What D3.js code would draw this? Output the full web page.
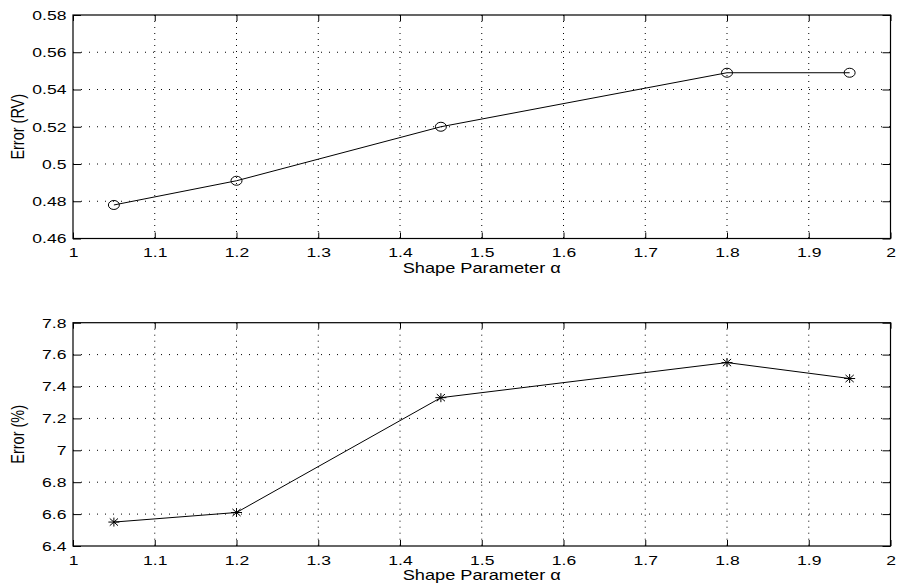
<!DOCTYPE html>
<html>
<head>
<meta charset="utf-8">
<script src="https://cdn.jsdelivr.net/npm/d3@7"></script>
<style>
body { margin: 0; background: white; }
text { font-family: "Liberation Sans", Arial, sans-serif; fill: #000; }
</style>
</head>
<body>
<div id="chart"></div>
<script>
// data
var alpha = [1.05, 1.2, 1.45, 1.8, 1.95];
var errorRV = [0.478, 0.491, 0.520, 0.549, 0.549];
var errorPct = [6.55, 6.61, 7.33, 7.55, 7.45];
var xTicks = [1, 1.1, 1.2, 1.3, 1.4, 1.5, 1.6, 1.7, 1.8, 1.9, 2];
var rvTicks = [0.46, 0.48, 0.5, 0.52, 0.54, 0.56, 0.58];
var pctTicks = [6.4, 6.6, 6.8, 7, 7.2, 7.4, 7.6, 7.8];

var svg = d3.select("#chart")
    .append("svg")
    .attr("width", 897)
    .attr("height", 588);

var left = 73, right = 890.5;
var stretch = 1.3; // the figure's text is wider than normal

function panel(top, bottom, yDomain, yTicks, values, yLabel, marker) {
    var x = d3.scaleLinear().domain([1, 2]).range([left, right]);
    var y = d3.scaleLinear().domain(yDomain).range([bottom, top]);
    var g = svg.append("g");

    // dotted grid
    g.selectAll(".gx").data(xTicks.slice(1, -1)).enter()
        .append("line")
        .attr("x1", d => x(d)).attr("x2", d => x(d))
        .attr("y1", top).attr("y2", bottom)
        .style("stroke", "#000").style("stroke-width", 1)
        .style("stroke-dasharray", "1,5");
    g.selectAll(".gy").data(yTicks.slice(1, -1)).enter()
        .append("line")
        .attr("x1", left).attr("x2", right)
        .attr("y1", d => y(d)).attr("y2", d => y(d))
        .style("stroke", "#000").style("stroke-width", 1)
        .style("stroke-dasharray", "1,7");

    // axes with inward ticks on all four sides
    g.append("g").attr("class", "xb").attr("transform", "translate(0," + bottom + ")")
        .call(d3.axisBottom(x).tickValues(xTicks).tickSizeInner(-6).tickSizeOuter(0).tickPadding(9).tickFormat(d3.format("")));
    g.append("g").attr("transform", "translate(0," + top + ")")
        .call(d3.axisTop(x).tickValues(xTicks).tickSizeInner(-6).tickSizeOuter(0).tickFormat(""));
    g.append("g").attr("class", "yl").attr("transform", "translate(" + left + ",0)")
        .call(d3.axisLeft(y).tickValues(yTicks).tickSizeInner(-8).tickSizeOuter(0).tickPadding(5).tickFormat(d3.format("")));
    g.append("g").attr("transform", "translate(" + right + ",0)")
        .call(d3.axisRight(y).tickValues(yTicks).tickSizeInner(-8).tickSizeOuter(0).tickFormat(""));
    g.selectAll(".domain").remove();
    g.selectAll(".tick line").style("stroke", "#000");
    g.selectAll(".tick text")
        .style("font-size", "13.5px")
        .style("font-family", "Liberation Sans, Arial, sans-serif")
        .attr("transform", "scale(" + stretch + ",1)");

    g.append("rect")
        .attr("x", left).attr("y", top)
        .attr("width", right - left).attr("height", bottom - top)
        .style("fill", "none").style("stroke", "#000").style("stroke-width", 1.2);

    // data line
    var line = d3.line().x(d => x(d[0])).y(d => y(d[1]));
    var pts = d3.zip(alpha, values);
    g.append("path").datum(pts)
        .attr("d", line)
        .style("fill", "none").style("stroke", "#000").style("stroke-width", 1);

    if (marker == "o") {
        g.selectAll(".mk").data(pts).enter()
            .append("ellipse")
            .attr("cx", d => x(d[0])).attr("cy", d => y(d[1]))
            .attr("rx", 5.5).attr("ry", 4.5)
            .style("fill", "none").style("stroke", "#000").style("stroke-width", 1);
    } else {
        var sx = 5.5, sy = 4.5;
        g.selectAll(".mk").data(pts).enter()
            .append("path")
            .attr("d", function(d) {
                var cx = x(d[0]), cy = y(d[1]);
                return "M" + (cx - sx) + "," + cy + "L" + (cx + sx) + "," + cy +
                    "M" + cx + "," + (cy - sy) + "L" + cx + "," + (cy + sy) +
                    "M" + (cx - sx * 0.75) + "," + (cy - sy * 0.8) + "L" + (cx + sx * 0.75) + "," + (cy + sy * 0.8) +
                    "M" + (cx - sx * 0.75) + "," + (cy + sy * 0.8) + "L" + (cx + sx * 0.75) + "," + (cy - sy * 0.8);
            })
            .style("stroke", "#000").style("stroke-width", 1);
    }

    svg.append("text")
        .attr("transform", "translate(" + (left + right) / 2 + "," + (bottom + 34) + ") scale(" + stretch + ",1)")
        .attr("text-anchor", "middle")
        .style("font-size", "14px")
        .text("Shape Parameter \u03b1");

    svg.append("text")
        .attr("transform", "translate(24," + (top + bottom) / 2 + ") scale(" + stretch + ",1) rotate(-90)")
        .attr("text-anchor", "middle")
        .style("font-size", "14.5px")
        .text(yLabel);
}

panel(15, 238.5, [0.46, 0.58], rvTicks, errorRV, "Error (RV)", "o");
panel(322.7, 546, [6.4, 7.8], pctTicks, errorPct, "Error (%)", "*");
</script>
</body>
</html>
